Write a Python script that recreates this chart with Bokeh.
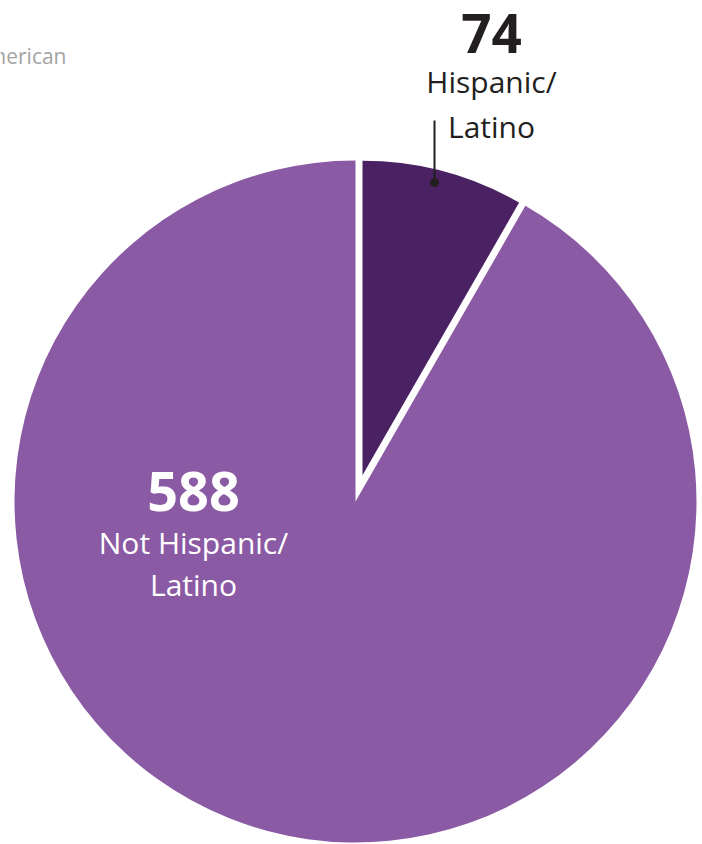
import math
from bokeh.plotting import figure
from bokeh.models import Range1d
from bokeh.core.properties import value
from bokeh.embed import file_html
from bokeh.resources import INLINE

# ---- data ----
categories = ["Hispanic/\nLatino", "Not Hispanic/\nLatino"]
counts = [74, 588]
# slice shares as drawn in the picture (percent)
slice_share_pct = [8.3, 91.7]
colors = ["#4a2263", "#8b5aa4"]
legend_fragment = "American"

W, H = 702, 844
p = figure(width=W, height=H, output_backend="svg", toolbar_location=None,
           x_range=Range1d(0, W), y_range=Range1d(0, H), min_border=0)
p.axis.visible = False
p.grid.visible = False
p.outline_line_color = None
p.background_fill_color = "white"

# pie geometry (pixel units, y up)
cx, cy, r = 355, 343, 341
gap = 7.0

theta = 2 * math.pi * slice_share_pct[0] / 100.0
top = math.pi / 2

# large slice (rest of the pie)
p.wedge(x=cx, y=cy, radius=r, start_angle=top, end_angle=top + 2 * math.pi - theta,
        fill_color=colors[1], line_color=None)

# small slice, inset from the cut so a white gap shows
half = theta / 2
d = gap / math.sin(half)
bis = top - half
dx, dy = cx + d * math.cos(bis), cy + d * math.sin(bis)
p.wedge(x=dx, y=dy, radius=r - d + 0.6, start_angle=top - theta, end_angle=top,
        fill_color=colors[0], line_color=None)

FONT = value("Open Sans")
dark = "#231f20"


def base(sy, fs):
    # screen baseline (from top) -> data y for this renderer
    return H - sy + 0.38 * fs


# legend fragment at top-left (cut by the edge, as in the reference)
p.text(x=[66], y=[base(63, 21)], text=[legend_fragment], text_font=FONT, text_font_size="21px",
       text_color="#a3a3a3", text_align="right", text_baseline="alphabetic")

# label for small slice
lx = 491
p.text(x=[lx], y=[base(53, 53)], text=[str(counts[0])], text_font=FONT, text_font_size="53px",
       text_font_style="bold", text_color=dark, text_align="center", text_baseline="alphabetic")
l1, l2 = categories[0].split("\n")
p.text(x=[lx, lx], y=[base(92, 30), base(137, 30)], text=[l1, l2], text_font=FONT,
       text_font_size="30px", text_color=dark, text_align="center", text_baseline="alphabetic")
p.segment(x0=[434], y0=[H - 120], x1=[434], y1=[H - 182], line_color=dark, line_width=2)
p.scatter(x=[434], y=[H - 182], size=9, fill_color=dark, line_color=None)

# label for large slice
bx = 193
p.text(x=[bx], y=[base(512, 54)], text=[str(counts[1])], text_font=FONT, text_font_size="54px",
       text_font_style="bold", text_color="white", text_align="center", text_baseline="alphabetic")
m1, m2 = categories[1].split("\n")
p.text(x=[bx, bx], y=[base(553, 30), base(595, 30)], text=[m1, m2], text_font=FONT,
       text_font_size="30px", text_color="white", text_align="center", text_baseline="alphabetic")

open("out.html", "w").write(file_html(p, INLINE))
